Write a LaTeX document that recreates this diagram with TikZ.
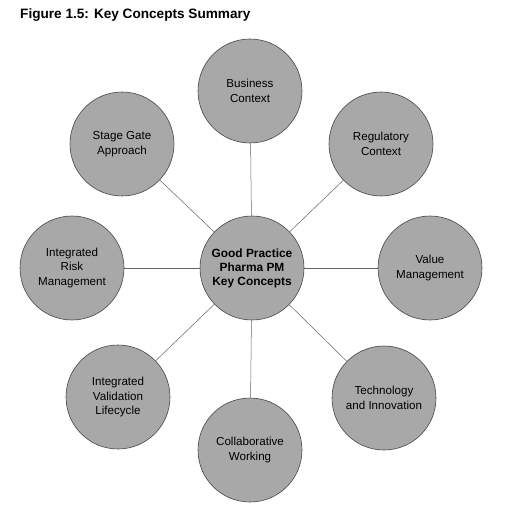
\documentclass[tikz,border=0pt]{standalone}
\usepackage{fontspec}
\setmainfont{Liberation Sans}
\usepackage{tikz}
\usetikzlibrary{positioning}
\usetikzlibrary{calc}

\definecolor{conceptgray}{RGB}{168,168,168}
\definecolor{rimgray}{RGB}{70,70,70}
\definecolor{linkgray}{RGB}{100,100,100}

\begin{document}
\begin{tikzpicture}[x=1pt, y=-1pt,
    concept/.style={circle, draw=rimgray, line width=0.6pt, fill=conceptgray, minimum size=104pt, inner sep=0pt, align=center, font=\fontsize{11.6}{14.5}\selectfont},
    core/.style={concept, font=\fontsize{11.9}{14}\selectfont\bfseries},
    link/.style={draw=linkgray, line width=0.5pt}]

        % Page frame
        \useasboundingbox (0,0) rectangle (526,518);

        % Title
        \node[anchor=west, inner sep=0pt, font=\fontsize{13.6}{16}\selectfont\bfseries] (title) at (20,15) {Figure 1.5: Key Concepts Summary};

        % Central concept
        \node[core] (hub) at (252,268) {Good Practice\\Pharma PM\\Key Concepts};

        % Surrounding concepts
        \node[concept] (business) at (250,91) {Business\\Context};
        \node[concept] (regulatory) at (381,144) {Regulatory\\Context};
        \node[concept] (value) at (430,268) {Value\\Management};
        \node[concept] (technology) at (384,398) {Technology\\and Innovation};
        \node[concept] (collab) at (250,450) {Collaborative\\Working};
        \node[concept] (validation) at (118,397) {Integrated\\Validation\\Lifecycle};
        \node[concept] (risk) at (72,268) {Integrated\\Risk\\Management};
        \node[concept] (stagegate) at (122,144) {Stage Gate\\Approach};

        % Spokes from the hub
        \foreach \c in {business, regulatory, value, technology, collab, validation, risk, stagegate} {
          \draw[link] (hub) -- (\c);
        }

      \end{tikzpicture}
\end{document}
